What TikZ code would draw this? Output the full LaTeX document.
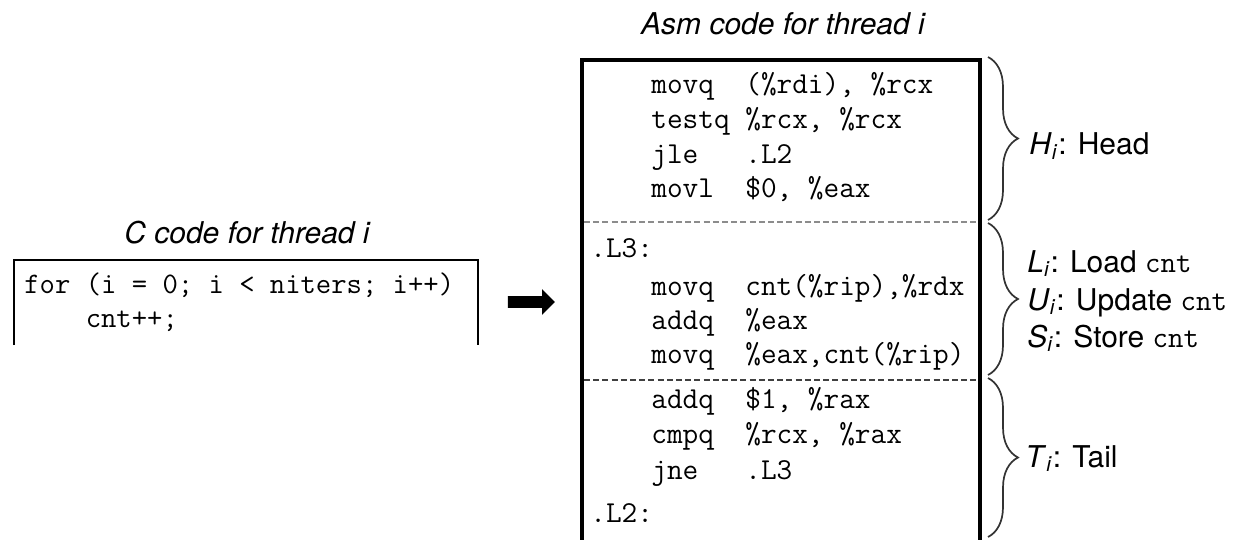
\documentclass[tikz,border=0pt]{standalone}
\usepackage{fontspec}
\setmainfont{TeX Gyre Heros}
\usetikzlibrary{decorations.pathreplacing,shapes.arrows}
\begin{document}
\begin{tikzpicture}[x=0.5pt,y=-0.5pt,
  asm/.style={anchor=base west, inner sep=0pt, font=\fontsize{15.2}{18}\selectfont\ttfamily},
  ccode/.style={anchor=base west, inner sep=0pt, font=\fontsize{14.9}{18}\selectfont\ttfamily},
  ttitle/.style={anchor=base, inner sep=0pt, font=\fontsize{15}{18}\selectfont\itshape},
  lab/.style={anchor=base west, inner sep=0pt, font=\fontsize{15}{18}\selectfont},
  bracestyle/.style={decorate, decoration={brace, amplitude=15pt}, line width=0.85pt, draw=black!80},
  boxline/.style={line width=2pt, line join=miter},
]
\useasboundingbox (0,0) rectangle (1241,540);

% C code
\node[ttitle] (ctitle) at (247,243) {C code for thread i};
\draw[line width=1pt] (14,345) -- (14,260) -- (478,260) -- (478,345);
\node[ccode] (c1) at (24,293) {for (i = 0; i < niters; i++)};
\node[ccode] (c2) at (24,327) {\ \ \ \ cnt++;};

% arrow
\node[single arrow, fill=black, draw=none, minimum height=23.5pt,
      inner xsep=0pt, inner ysep=2.75pt,
      single arrow head extend=3.5pt] (arrow) at (528.5,302) {};

% Asm code
\node[ttitle] (atitle) at (783,35) {Asm code for thread i};
\draw[boxline] (582,550) -- (582,60) -- (980,60) -- (980,550);
\draw[dashed, dash pattern=on 3pt off 1.6pt, black!45, line width=0.6pt] (584,222) -- (978,222);
\draw[dashed, dash pattern=on 3pt off 1.6pt, black!75, line width=1.1pt] (584,380) -- (978,380);

\node[asm] (a1) at (651,94) {movq\ \ (\%rdi), \%rcx};
\node[asm] (a2) at (651,128) {testq \%rcx, \%rcx};
\node[asm] (a3) at (651,163) {jle\ \ \ .L2};
\node[asm] (a4) at (651,197) {movl\ \ \$0, \%eax};
\node[asm] (a5) at (590,257) {.L3:};
\node[asm] (a6) at (651,295) {movq\ \ cnt(\%rip),\%rdx};
\node[asm] (a7) at (651,329) {addq\ \ \%eax};
\node[asm] (a8) at (651,363) {movq\ \ \%eax,cnt(\%rip)};
\node[asm] (a9) at (651,408) {addq\ \ \$1, \%rax};
\node[asm] (a10) at (651,443) {cmpq\ \ \%rcx, \%rax};
\node[asm] (a11) at (651,479) {jne\ \ \ .L3};
\node[asm] (a12) at (590,522) {.L2:};

% braces
\draw[bracestyle] (988,57) -- (988,220);
\draw[bracestyle] (988,223) -- (988,375);
\draw[bracestyle] (988,378) -- (988,537);

\node[lab] (h) at (1029,155) {\textit{H}\textsubscript{\textit{i}}: Head};
\node[lab] (l) at (1027,272) {\textit{L}\textsubscript{\textit{i}}: Load \texttt{cnt}};
\node[lab] (u) at (1027,310) {\textit{U}\textsubscript{\textit{i}}: Update \texttt{cnt}};
\node[lab] (s) at (1027,347) {\textit{S}\textsubscript{\textit{i}}: Store \texttt{cnt}};
\node[lab] (t) at (1025,467) {\textit{T}\textsubscript{\textit{i}}: Tail};
\end{tikzpicture}
\end{document}
